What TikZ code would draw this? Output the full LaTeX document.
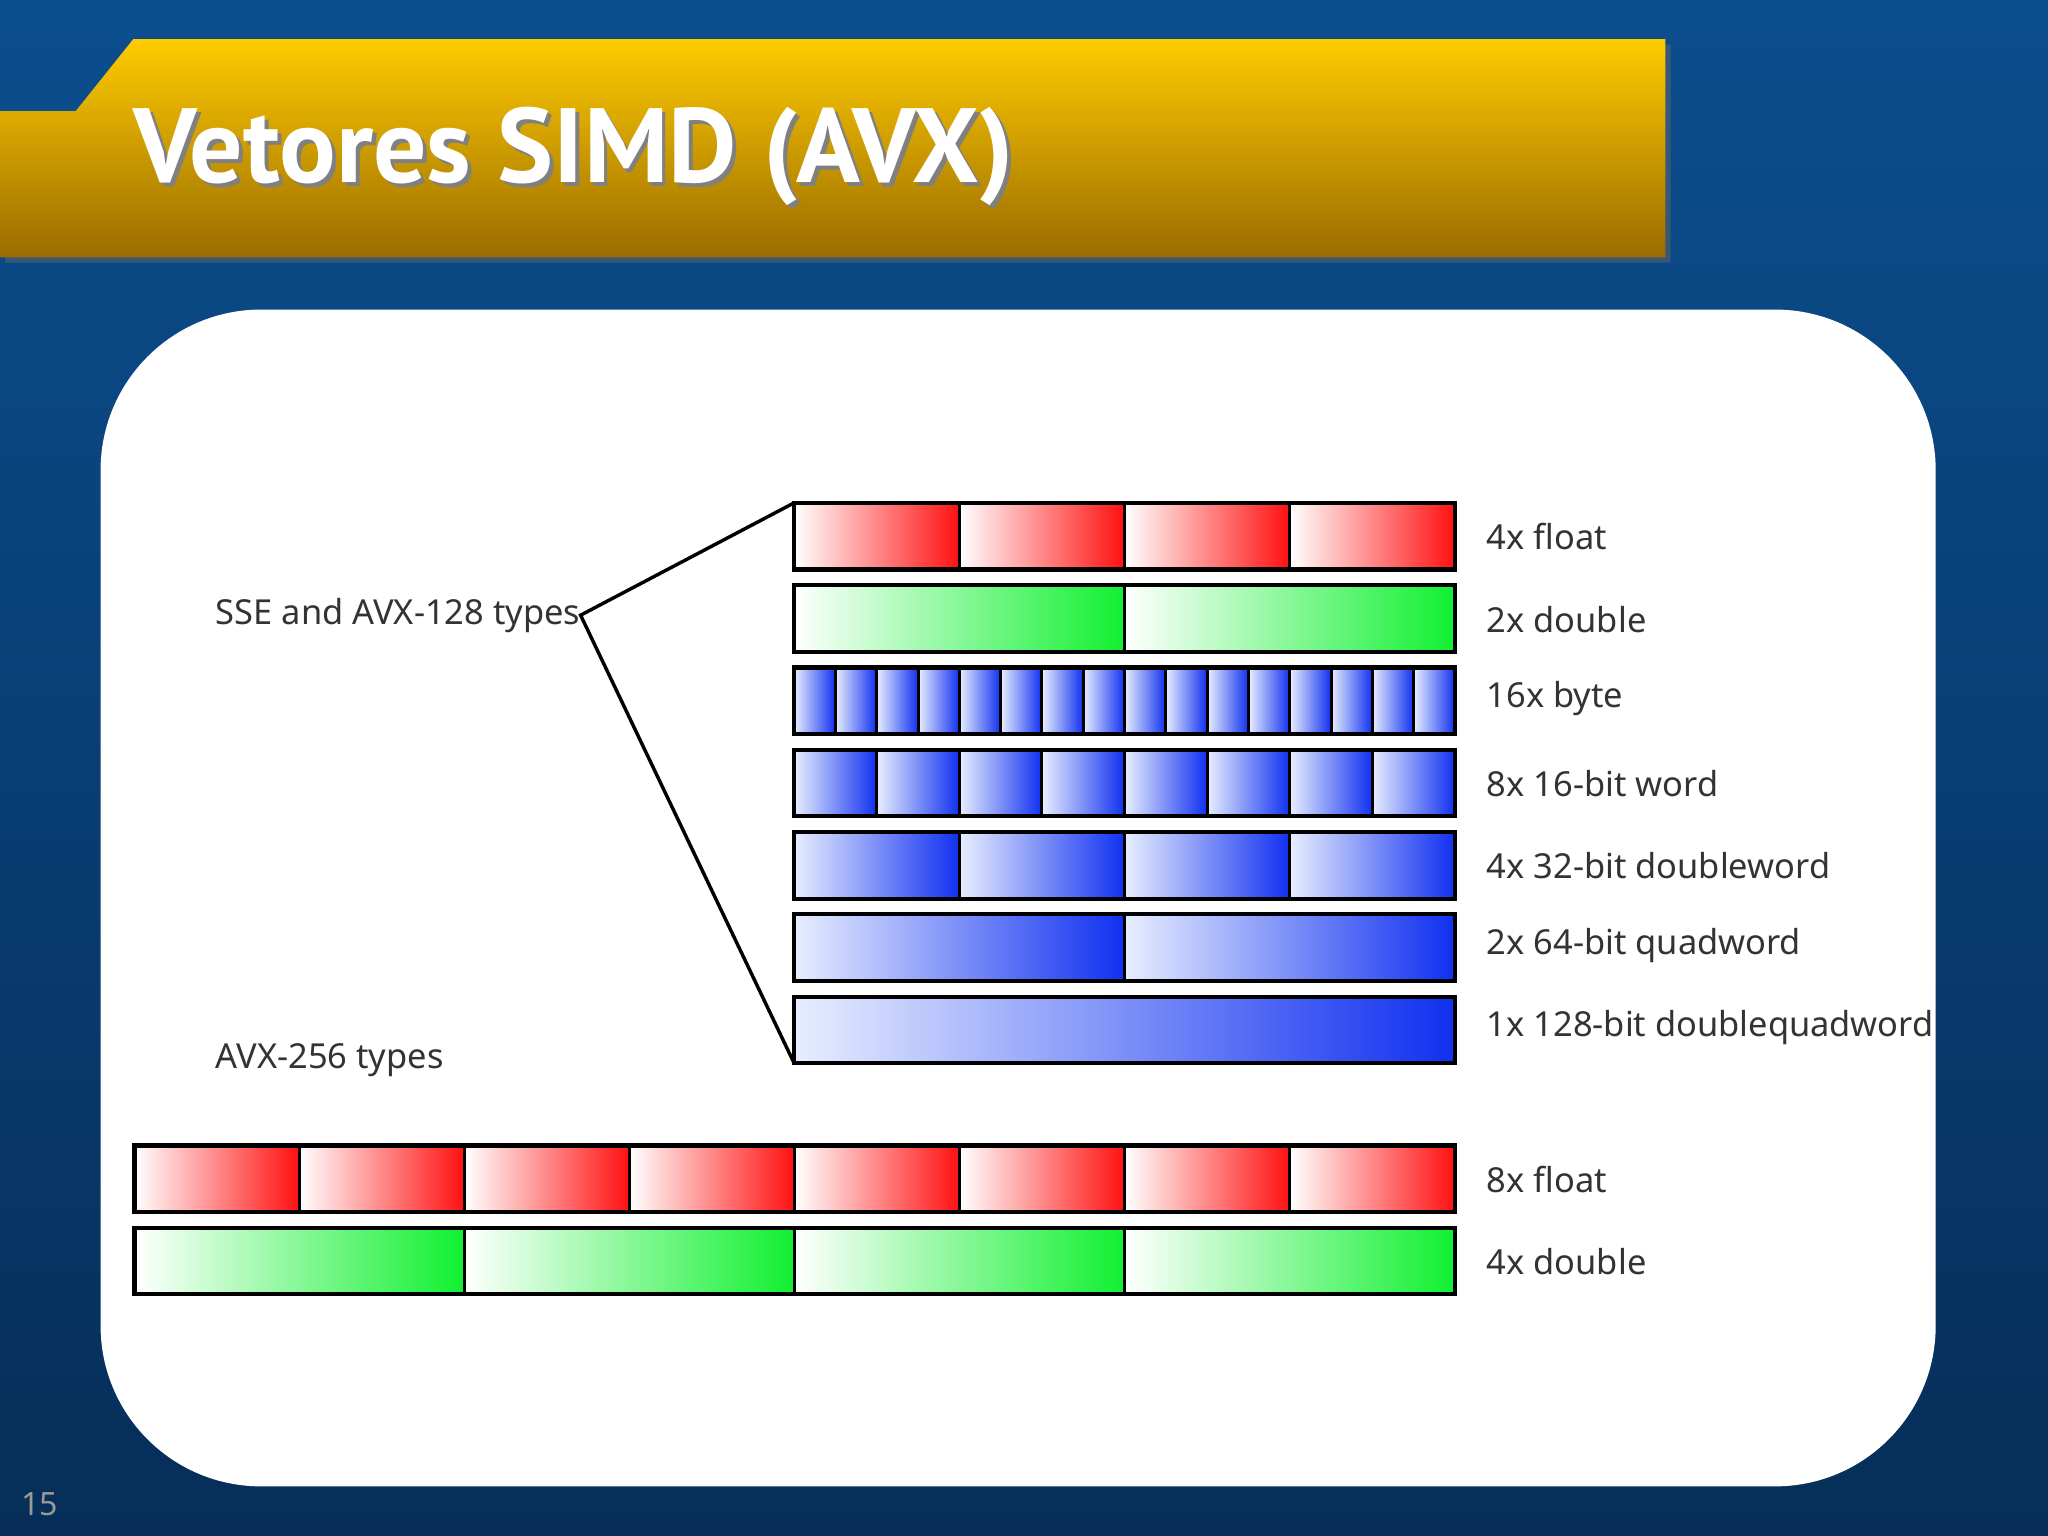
\documentclass[tikz,border=0pt]{standalone}
\usepackage{fontspec}
\setmainfont{Noto Sans}
\newfontfamily\titlef{PT Sans}
\definecolor{bgtop}{HTML}{0B4E8E}
\definecolor{bgbot}{HTML}{062E58}
\definecolor{ytop}{HTML}{FFCB00}
\definecolor{ybot}{HTML}{9A6C00}
\definecolor{myred}{HTML}{FF1010}
\definecolor{mygreen}{HTML}{10F030}
\definecolor{myblue}{HTML}{1030F0}
\definecolor{lblue}{HTML}{E8EEFF}
\newcommand\barrow[6]{%
  \foreach \i in {1,...,#4}{
    \shade[left color=#5, right color=#6] ({#1+(\i-1)*(#2-#1)/#4},#3) rectangle ({#1+\i*(#2-#1)/#4},#3+51);
    \draw[line width=1.3pt] ({#1+(\i-1)*(#2-#1)/#4},#3) rectangle ({#1+\i*(#2-#1)/#4},#3+51);
  }
  \draw[line width=1.8pt] (#1,#3) rectangle (#2,#3+51);
}
\tikzset{lab/.style={anchor=west, font=\fontsize{15}{18}\selectfont, text=black!80, inner sep=0pt}}
\begin{document}
\begin{tikzpicture}[x=0.02cm,y=-0.02cm]
\useasboundingbox (0,0) rectangle (1568,1176);
\shade[top color=bgtop, bottom color=bgbot] (0,0) rectangle (1568,1176);
% banner
\fill[black!60, opacity=0.5] (4,89) -- (62,89) -- (106,34) -- (1279,34) -- (1279,201) -- (4,201) -- cycle;
\shade[top color=ytop, bottom color=ybot] (0,85) -- (58,85) -- (102,30) -- (1275,30) -- (1275,197) -- (0,197) -- cycle;
\node[anchor=base west, inner sep=0pt, text=black!50] (tshadow) at (105,143) {\titlef\bfseries\fontsize{46}{50}\selectfont Vetores SIMD (AVX)};
\node[anchor=base west, inner sep=0pt, text=white] (title) at (102,140) {\titlef\bfseries\fontsize{46}{50}\selectfont Vetores SIMD (AVX)};
% panel
\fill[white, rounded corners=70] (77,237) rectangle (1482,1138);
\node[anchor=base west, inner sep=0pt, text=black!40, font=\fontsize{14}{16}\selectfont] (pg) at (16,1160) {15};
% rows
\barrow{608}{1114}{385}{4}{white}{myred}
\barrow{608}{1114}{448}{2}{white}{mygreen}
\barrow{608}{1114}{511}{16}{lblue}{myblue}
\barrow{608}{1114}{574}{8}{lblue}{myblue}
\barrow{608}{1114}{637}{4}{lblue}{myblue}
\barrow{608}{1114}{700}{2}{lblue}{myblue}
\barrow{608}{1114}{763}{1}{lblue}{myblue}
\barrow{103}{1114}{877}{8}{white}{myred}
\barrow{103}{1114}{940}{4}{white}{mygreen}
\coordinate (ctop) at (608,385);
\coordinate (cbot) at (608,814);
% labels
\node[lab] (l1) at (1138,411) {4x float};
\node[lab] (l2) at (1138,474) {2x double};
\node[lab] (l3) at (1138,535) {16x byte};
\node[lab] (l4) at (1138,600) {8x 16-bit word};
\node[lab] (l5) at (1138,663) {4x 32-bit doubleword};
\node[lab] (l6) at (1138,724) {2x 64-bit quadword};
\node[lab] (l7) at (1138,787) {1x 128-bit doublequadword};
\node[lab] (l8) at (1138,903) {8x float};
\node[lab] (l9) at (1138,966) {4x double};
\node[lab] (sse) at (165,471) {SSE and AVX-128 types};
\node[lab] (avx) at (165,812) {AVX-256 types};
\draw[line width=1.5pt] (ctop) -- (sse.east) -- (cbot);
\end{tikzpicture}
\end{document}
